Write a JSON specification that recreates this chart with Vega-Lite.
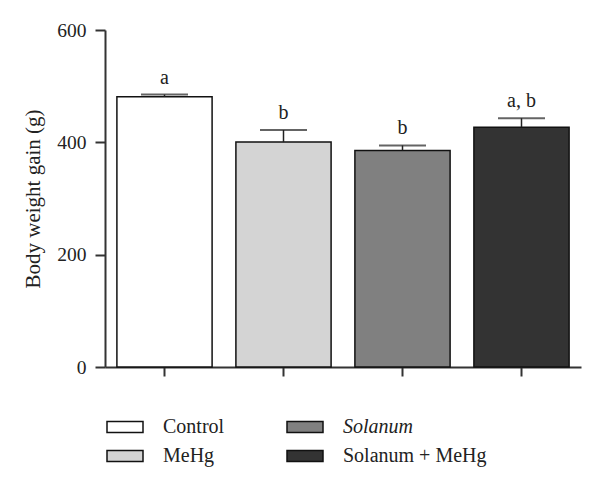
{
  "$schema": "https://vega.github.io/schema/vega-lite/v6.json",
  "width": 476,
  "height": 337,
  "padding": {"left": 22, "top": 20, "right": 5, "bottom": 5},
  "background": "white",
  "config": {
    "view": {"stroke": null},
    "font": "Liberation Serif",
    "axis": {"labelFont": "Liberation Serif", "titleFont": "Liberation Serif", "domainColor": "#333", "tickColor": "#333", "domainWidth": 2, "tickWidth": 2, "labelColor": "#222", "titleColor": "#222", "labelFontSize": 19.5, "titleFontSize": 21, "titleFontWeight": "normal"}
  },
  "data": {
    "values": [
      {"group": "Control", "value": 481, "upper": 485, "label": "a"},
      {"group": "MeHg", "value": 400.5, "upper": 422, "label": "b"},
      {"group": "Solanum", "value": 385.6, "upper": 394.5, "label": "b"},
      {"group": "Solanum + MeHg", "value": 427, "upper": 443, "label": "a, b"}
    ]
  },
  "encoding": {
    "x": {
      "field": "group",
      "type": "nominal",
      "sort": ["Control", "MeHg", "Solanum", "Solanum + MeHg"],
      "scale": {"paddingInner": 0.2, "paddingOuter": 0.1},
      "axis": {"labels": false, "title": null, "tickSize": 9, "domainWidth": 2}
    }
  },
  "layer": [
    {
      "mark": {"type": "bar", "stroke": "#111", "strokeWidth": 1.5},
      "encoding": {
        "y": {
          "field": "value",
          "type": "quantitative",
          "scale": {"domain": [0, 600], "nice": false},
          "axis": {"values": [0, 200, 400, 600], "grid": false, "tickSize": 10, "labelPadding": 9, "title": "Body weight gain (g)", "titlePadding": 13}
        },
        "fill": {
          "field": "group",
          "type": "nominal",
          "scale": {
            "domain": ["Control", "MeHg", "Solanum", "Solanum + MeHg"],
            "range": ["#ffffff", "#d4d4d4", "#808080", "#333333"]
          },
          "legend": {
            "title": null,
            "orient": "none",
            "legendX": 1,
            "legendY": 378,
            "columns": 2,
            "columnPadding": 59,
            "rowPadding": -9,
            "symbolType": "M-1,-0.3H1V0.3H-1Z",
            "symbolSize": 1296,
            "symbolStrokeColor": "#111",
            "symbolStrokeWidth": 1.5,
            "labelFont": "Liberation Serif",
            "labelFontSize": 20,
            "labelColor": "#222",
            "labelOffset": 19,
            "labelLimit": 300,
            "labelFontStyle": {"expr": "datum.value === 'Solanum' ? 'italic' : 'normal'"}
          }
        }
      }
    },
    {
      "mark": {"type": "rule", "color": "#222", "strokeWidth": 1.5},
      "encoding": {
        "y": {"field": "value", "type": "quantitative"},
        "y2": {"field": "upper"}
      }
    },
    {
      "mark": {"type": "tick", "color": "#222", "size": 47, "thickness": 2},
      "encoding": {
        "y": {"field": "upper", "type": "quantitative"}
      }
    },
    {
      "mark": {"type": "text", "baseline": "bottom", "dy": -7, "fontSize": 20, "color": "#222"},
      "encoding": {
        "y": {"field": "upper", "type": "quantitative"},
        "text": {"field": "label"}
      }
    }
  ]
}
